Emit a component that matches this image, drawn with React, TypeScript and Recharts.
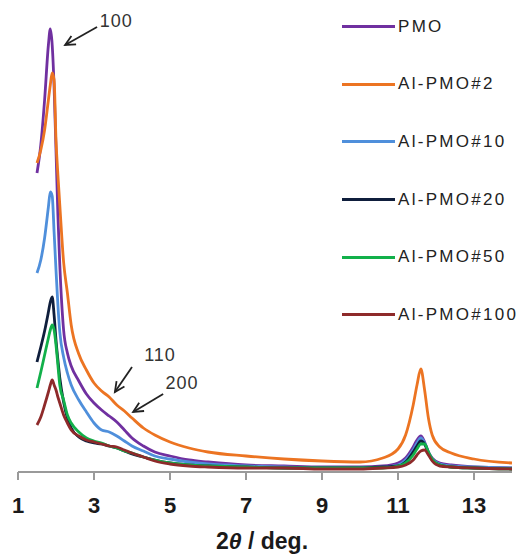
import React from "react";
import { LineChart, Line, XAxis, YAxis, Label, ReferenceLine, ReferenceDot } from "recharts";

const twoTheta = [1.5, 1.6, 1.7, 1.8, 1.85, 1.9, 1.95, 2.0, 2.05, 2.1, 2.2, 2.3, 2.4, 2.6, 2.8, 3.0, 3.2, 3.4, 3.6, 3.8, 4.0, 4.3, 4.6, 5.0, 5.5, 6.0, 7, 8, 9, 10, 10.6, 11, 11.2, 11.4, 11.5, 11.6, 11.7, 11.8, 11.9, 12.1, 12.4, 13, 14];

const pmo = [299, 327, 372, 427, 443, 427, 385, 322, 257, 207, 142, 119, 106, 91, 78, 69, 62, 56, 50, 42, 34, 26, 20, 16, 12, 10, 7, 6, 5, 5, 6, 9, 14, 25, 32, 36, 30, 20, 14, 9, 7, 5, 4];
const alPmo2 = [309, 322, 342, 372, 387, 399, 392, 332, 297, 267, 210, 179, 147, 118, 102, 89, 81, 75, 67, 61, 54, 44, 37, 30, 24, 20, 16, 13, 11, 10, 14, 23, 37, 67, 87, 103, 82, 54, 37, 25, 19, 13, 9];
const alPmo10 = [199, 212, 234, 265, 280, 276, 240, 202, 167, 140, 115, 99, 87, 72, 60, 49, 42, 40, 36, 31, 26, 21, 16, 13, 10, 8, 6, 5, 4, 4, 5, 7, 12, 22, 29, 34, 29, 20, 13, 8, 6, 5, 4];
const alPmo20 = [110, 125, 141, 160, 170, 175, 157, 132, 112, 94, 70, 54, 44, 35, 31, 29, 28, 26, 24, 21, 18, 15, 12, 9, 7, 6, 5, 4, 4, 4, 5, 6, 10, 20, 26, 31, 28, 19, 12, 7, 5, 4, 3];
const alPmo50 = [84, 100, 117, 134, 142, 147, 142, 127, 107, 87, 72, 57, 49, 40, 34, 31, 29, 26, 24, 21, 19, 15, 12, 9, 7, 6, 5, 4, 4, 4, 4, 6, 9, 17, 23, 28, 28, 20, 13, 7, 5, 4, 3];
const alPmo100 = [47, 55, 67, 80, 87, 92, 87, 82, 75, 69, 57, 49, 42, 36, 32, 30, 28, 26, 25, 22, 19, 15, 11, 8, 6, 5, 4, 4, 3, 3, 4, 5, 7, 12, 17, 21, 22, 17, 11, 6, 5, 4, 3];

const xTicks = [1, 3, 5, 7, 9, 11, 13];

const seriesNames = ["PMO", "Al-PMO#2", "Al-PMO#10", "Al-PMO#20", "Al-PMO#50", "Al-PMO#100"];
const seriesKeys = ["pmo", "alPmo2", "alPmo10", "alPmo20", "alPmo50", "alPmo100"];
const seriesColors = ["#7030A0", "#EC7422", "#4F8FDB", "#0F1E3C", "#12B04A", "#8E2A2A"];

// annotation arrows: [tailX, tailY, headX, headY], labels: [x, y, text]
const arrows = [
  [3.08, 445, 2.24, 427],
  [4.0, 105, 3.55, 80],
  [4.82, 78, 4.03, 60],
];
const arrowLabels: [number, number, string][] = [
  [3.15, 445, "100"],
  [4.32, 111, "110"],
  [4.88, 83, "200"],
];

const data = twoTheta.map((x, i) => ({
  x,
  pmo: pmo[i],
  alPmo2: alPmo2[i],
  alPmo10: alPmo10[i],
  alPmo20: alPmo20[i],
  alPmo50: alPmo50[i],
  alPmo100: alPmo100[i],
}));

const FONT = "'Liberation Sans', Arial, sans-serif";

const ArrowShape = (p: any) => {
  const { x1, y1, x2, y2 } = p;
  const ang = Math.atan2(y2 - y1, x2 - x1);
  const L = 11;
  const a1 = ang + Math.PI - 0.45;
  const a2 = ang + Math.PI + 0.45;
  return (
    <g stroke="#222" strokeWidth={1.8} fill="none">
      <line x1={x1} y1={y1} x2={x2} y2={y2} />
      <polyline
        points={`${x2 + L * Math.cos(a1)},${y2 + L * Math.sin(a1)} ${x2},${y2} ${x2 + L * Math.cos(a2)},${y2 + L * Math.sin(a2)}`}
      />
    </g>
  );
};

const LegendBox = () => (
  <div style={{ position: "absolute", left: 342, top: -2, fontFamily: FONT }}>
    {seriesNames.map((n, i) => (
      <div key={n} style={{ display: "flex", alignItems: "center", height: 57.6 }}>
        <div style={{ width: 53, height: 3, background: seriesColors[i], marginRight: 3 }} />
        <span style={{ fontSize: 17, letterSpacing: 2.3, color: "#222" }}>{n}</span>
      </div>
    ))}
  </div>
);

export default function App() {
  return (
    <div style={{ position: "absolute", left: 0, top: 0, width: 520, height: 554, background: "#fff" }}>
      <LineChart width={520} height={554} data={data} margin={{ top: 22, right: 8, bottom: 0, left: 18 }}>
        <XAxis
          dataKey="x"
          type="number"
          domain={[1, 14]}
          ticks={xTicks}
          allowDataOverflow
          height={82}
          stroke="#9a9a9a"
          strokeWidth={2}
          tickSize={8}
          tickMargin={17}
          tick={{ fontSize: 22, fontWeight: "bold", fill: "#1a1a1a", fontFamily: FONT }}
        >
          <Label
            content={(props: any) => {
              const vb = props.viewBox;
              return (
                <text
                  x={vb.x + vb.width / 2 - 3}
                  y={vb.y + vb.height - 5}
                  textAnchor="middle"
                  fontSize={23}
                  fontWeight="bold"
                  fontFamily={FONT}
                  fill="#1a1a1a"
                >
                  2<tspan fontStyle="italic">θ</tspan> / deg.
                </text>
              );
            }}
          />
        </XAxis>
        <YAxis hide domain={[0, 450]} allowDataOverflow />
        {seriesKeys.map((k, i) => (
          <Line
            key={k}
            dataKey={k}
            name={seriesNames[i]}
            type="monotone"
            stroke={seriesColors[i]}
            strokeWidth={2.8}
            dot={false}
            isAnimationActive={false}
          />
        ))}
        {arrows.map((a, i) => (
          <ReferenceLine
            key={"a" + i}
            segment={[{ x: a[0], y: a[1] }, { x: a[2], y: a[3] }]}
            ifOverflow="visible"
            shape={ArrowShape}
          />
        ))}
        {arrowLabels.map((l, i) => (
          <ReferenceDot
            key={"l" + i}
            x={l[0]}
            y={l[1]}
            ifOverflow="visible"
            shape={(p: any) => (
              <text x={p.cx} y={p.cy} fontSize={18} letterSpacing={1} fontFamily={FONT} fill="#333">
                {l[2]}
              </text>
            )}
          />
        ))}
      </LineChart>
      <LegendBox />
    </div>
  );
}
